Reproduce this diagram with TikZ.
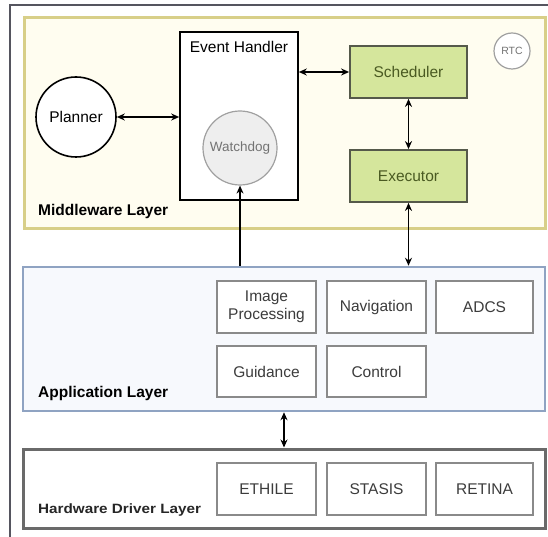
\documentclass[tikz,border=0pt]{standalone}
\usepackage{fontspec}
\setmainfont{Liberation Sans}
\usetikzlibrary{arrows.meta}
\definecolor{framec}{HTML}{55555F}
\definecolor{mwborder}{HTML}{D8CF88}
\definecolor{mwfill}{HTML}{FFFDF0}
\definecolor{appborder}{HTML}{8FA3C2}
\definecolor{appfill}{HTML}{F7F9FD}
\definecolor{hwborder}{HTML}{6A6A6A}
\definecolor{greenfill}{HTML}{D5E69C}
\definecolor{greentext}{HTML}{4A5A22}
\definecolor{greenborder}{HTML}{55594A}
\definecolor{boxborder}{HTML}{8A8A8A}
\definecolor{boxtext}{HTML}{3C3C3C}
\definecolor{wdfill}{HTML}{EEEEEE}
\definecolor{wdborder}{HTML}{A0A0A0}
\tikzset{
  lbl/.style={font=\fontsize{15.5}{18}\selectfont},
  layerlbl/.style={font=\fontsize{15.5}{18}\selectfont\bfseries, anchor=west, inner sep=0pt},
  mwlayer/.style={draw=mwborder, line width=3pt, fill=mwfill, minimum width=521pt, minimum height=210pt, inner sep=0pt},
  applayer/.style={draw=appborder, line width=2.5pt, fill=appfill, minimum width=522pt, minimum height=144pt, inner sep=0pt},
  hwlayer/.style={draw=hwborder, line width=3pt, fill=white, minimum width=522pt, minimum height=79pt, inner sep=0pt},
  modbox/.style={lbl, draw=boxborder, line width=1.8pt, fill=white, text=boxtext, minimum height=52pt, inner sep=0pt, align=center},
  greenbox/.style={lbl, draw=greenborder, line width=1.8pt, fill=greenfill, text=greentext, minimum width=117pt, minimum height=52pt, inner sep=0pt},
  conn/.style={line width=1.4pt, {Stealth[length=8pt,width=7pt]}-{Stealth[length=8pt,width=7pt]}},
  conn1/.style={line width=1.4pt, -{Stealth[length=8pt,width=7pt]}}
}
\begin{document}
\begin{tikzpicture}[x=1pt,y=-1pt]
\useasboundingbox (0,0) rectangle (548,537);
\fill[white] (0,0) rectangle (548,537);
% outer frame (top and left)
\draw[framec, line width=2pt] (10,537) -- (10,5.5) -- (548,5.5);

% layers
\node[mwlayer] (mw) at (284.5,123) {};
\node[applayer] (app) at (284,339) {};
\node[hwlayer] (hw) at (284,488.5) {};

\node[layerlbl] (mwl) at (38,211) {Middleware Layer};
\node[layerlbl] (appl) at (38,393) {Application Layer};
\node[layerlbl, font=\fontsize{13.5}{16}\selectfont\bfseries, text=black!85] (hwl) at (38,510) {\scalebox{1.13}[1]{Hardware Driver Layer}};

% middleware contents
\node[draw=black, line width=1.6pt, fill=white, minimum width=118pt, minimum height=168pt, inner sep=0pt] (eh) at (239,116) {};
\node[lbl, anchor=north, inner sep=0pt] (ehl) at (239,41) {Event Handler};
\node[circle, draw=black, line width=1.6pt, fill=white, minimum size=80pt, inner sep=0pt, lbl] (pl) at (76,117) {Planner};
\node[circle, draw=wdborder, line width=1.2pt, fill=wdfill, minimum size=74pt, inner sep=0pt, text=black!55, font=\fontsize{13.5}{16}\selectfont] (wd) at (240,148) {Watchdog};
\node[greenbox] (sch) at (408.5,72) {Scheduler};
\node[greenbox] (exe) at (408.5,176) {Executor};
\node[circle, draw=wdborder, line width=1.2pt, fill=white, minimum size=36pt, inner sep=0pt, text=black!55, font=\fontsize{10.5}{12}\selectfont] (rtc) at (512,51) {RTC};

% application modules
\node[modbox, minimum width=99pt] (img) at (266.5,307) {Image\\Processing};
\node[modbox, minimum width=99pt] (nav) at (376.5,307) {Navigation};
\node[modbox, minimum width=97pt] (adcs) at (484.5,307) {ADCS};
\node[modbox, minimum width=99pt, minimum height=51pt] (gui) at (266.5,371.5) {Guidance};
\node[modbox, minimum width=99pt, minimum height=51pt] (ctl) at (376.5,371.5) {Control};

% hardware modules
\node[modbox, minimum width=99pt] (eth) at (266.5,489) {ETHILE};
\node[modbox, minimum width=99pt] (sta) at (376.5,489) {STASIS};
\node[modbox, minimum width=97pt] (ret) at (484.5,489) {RETINA};

% connectors
\draw[conn] (pl.east) -- (pl.east -| eh.west);
\draw[conn] (sch.west -| eh.east) -- (sch.west);
\draw[conn] (sch.south) -- (exe.north);
\draw[conn] (exe.south) -- (exe.south |- app.north);
\draw[conn1] (app.north -| wd.south) -- (wd.south);
\draw[conn] (app.south) -- (hw.north);
\end{tikzpicture}
\end{document}
